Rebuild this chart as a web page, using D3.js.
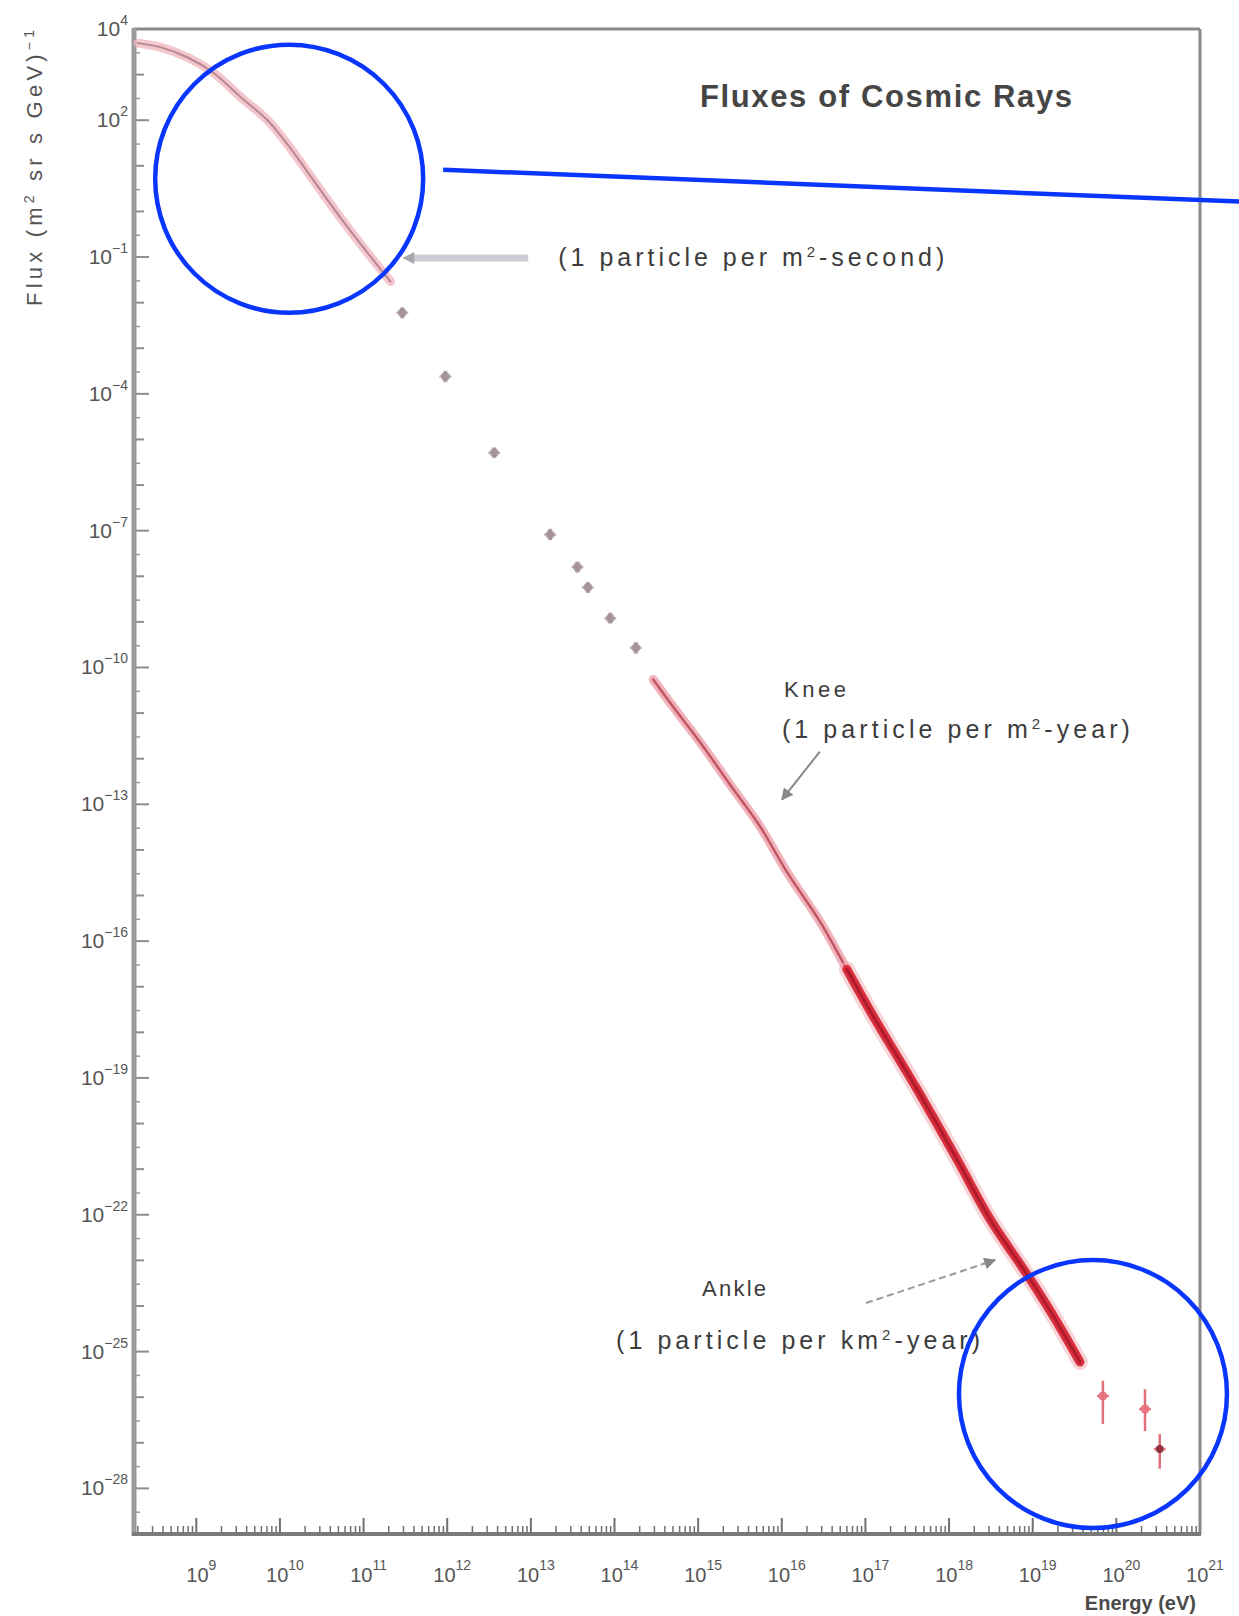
<!DOCTYPE html>
<html>
<head>
<meta charset="utf-8">
<title>Fluxes of Cosmic Rays</title>
<script src="https://cdn.jsdelivr.net/npm/d3@7"></script>
<style>
  html, body { margin: 0; padding: 0; background: #ffffff; }
  svg { display: block; }
</style>
</head>
<body>
<script>
// ---- Spectrum data: energy in eV, flux in (m^2 sr s GeV)^-1 ----

// low-energy spectrum (many overlapping direct measurements)
const lowEnergy = [2.0e8, 3.7e8, 7.8e8, 1.6e9, 3.4e9, 7.1e9, 1.3e10, 2.5e10, 4.8e10, 8.4e10, 1.3e11, 2.1e11];
const lowFlux   = [4.9e3, 4.0e3, 2.4e3, 1.1e3, 3.2e2, 1.0e2, 26, 4.9, 0.93, 0.24, 0.087, 0.029];

// balloon / satellite points with error bars
const directEnergy = [2.9e11, 9.5e11, 3.65e12, 1.7e13, 3.6e13, 4.8e13, 8.9e13, 1.8e14];
const directFlux   = [6.0e-3, 2.4e-4, 5.1e-6, 8.2e-8, 1.6e-8, 5.7e-9, 1.2e-9, 2.7e-10];
const directLow    = [4.5e-3, 1.8e-4, 3.9e-6, 6.2e-8, 1.2e-8, 4.3e-9, 9.2e-10, 2.0e-10];
const directHigh   = [7.9e-3, 3.2e-4, 6.7e-6, 1.1e-7, 2.1e-8, 7.5e-9, 1.6e-9, 3.6e-10];

// air-shower measurements across the knee
const kneeEnergy = [2.9e14, 4.6e14, 1.06e15, 2.4e15, 5.5e15, 1.16e16, 2.9e16, 6.0e16, 1.24e17];
const kneeFlux   = [5.45e-11, 1.71e-11, 2.27e-12, 2.73e-13, 3.27e-14, 3.21e-15, 2.58e-16, 2.41e-17, 2.25e-18];

// air-shower measurements up to the ankle and beyond
const ankleEnergy = [6.0e16, 1.24e17, 4.14e17, 1.24e18, 3.09e18, 9.3e18, 1.85e19, 3.67e19];
const ankleFlux   = [2.41e-17, 2.25e-18, 5.66e-20, 1.66e-21, 8.0e-23, 3.9e-24, 5.2e-25, 5.9e-26];

// highest-energy events
const uheEnergy = [6.9e19, 2.2e20, 3.3e20];
const uheFlux   = [1.06e-26, 5.5e-27, 7.3e-28];
const uheLow    = [2.6e-27, 1.8e-27, 2.7e-28];
const uheHigh   = [2.3e-26, 1.5e-26, 1.55e-27];

// axis tick exponents
const xTickExps = [9, 10, 11, 12, 13, 14, 15, 16, 17, 18, 19, 20, 21];
const yTickExps = [4, 2, -1, -4, -7, -10, -13, -16, -19, -22, -25, -28];

// text annotations, anchored on the spectrum
const notes = [
  { tipE: 2.9e11, tipF: 0.095, lines: [["(1 particle per m", "2", "-second)"]] },
  { tipE: 9.5e15, tipF: 1.15e-13, lines: [["Knee"], ["(1 particle per m", "2", "-year)"]] },
  { tipE: 3.85e18, tipF: 1.07e-23, lines: [["Ankle"], ["(1 particle per km", "2", "-year)"]] }
];

// highlighted regions
const highlights = [
  { e: 1.29e10, f: 5.2 },
  { e: 5.25e19, f: 1.17e-26 }
];

// ---- Layout ----
const W = 1239, H = 1616;
const plot = { left: 134, right: 1200, top: 29, bottom: 1534 };
const font = "'Liberation Sans', Arial, 'DejaVu Sans', sans-serif";

const x = d3.scaleLog().domain([1.8e8, 1e21]).range([plot.left, plot.right]);
const y = d3.scaleLog().domain([1e-29, 1e4]).range([plot.bottom, plot.top]);

const svg = d3.select("body").append("svg")
  .attr("width", W).attr("height", H)
  .style("font-family", font);

svg.append("rect").attr("width", W).attr("height", H).attr("fill", "#fff");

const defs = svg.append("defs");
defs.append("marker").attr("id", "arrowHead")
  .attr("viewBox", "0 0 10 10").attr("refX", 9).attr("refY", 5)
  .attr("markerWidth", 6).attr("markerHeight", 6).attr("orient", "auto")
  .append("path").attr("d", "M0,0 L10,5 L0,10 Z").attr("fill", "#888");

// ---- Axes ----
const axisG = svg.append("g");

// y ticks: every decade, labelled every third, plus a tick at 3x each decade
for (let p = -29; p <= 4; p++) {
  const labelled = yTickExps.includes(p);
  axisG.append("line")
    .attr("x1", plot.left).attr("x2", plot.left + (labelled ? 15 : 10))
    .attr("y1", y(Math.pow(10, p))).attr("y2", y(Math.pow(10, p)))
    .attr("stroke", "#8c8c8c").attr("stroke-width", 2);
  if (p < 4) {
    const v = 3 * Math.pow(10, p);
    axisG.append("line")
      .attr("x1", plot.left).attr("x2", plot.left + 6)
      .attr("y1", y(v)).attr("y2", y(v))
      .attr("stroke", "#9a9a9a").attr("stroke-width", 1.5);
  }
}

// x ticks: decades and 2..9 minors
const [xMin, xMax] = x.domain();
for (let p = 8; p <= 21; p++) {
  for (let m = 1; m <= 9; m++) {
    const v = m * Math.pow(10, p);
    if (v < xMin || v > xMax * 1.0001) continue;
    const major = m === 1;
    axisG.append("line")
      .attr("x1", x(v)).attr("x2", x(v))
      .attr("y1", plot.bottom).attr("y2", plot.bottom - (major ? 16 : 8))
      .attr("stroke", "#707070").attr("stroke-width", major ? 2 : 1.5);
  }
}

// frame
axisG.append("line").attr("x1", plot.left).attr("x2", plot.right)
  .attr("y1", plot.top).attr("y2", plot.top)
  .attr("stroke", "#8a8a8a").attr("stroke-width", 3);
axisG.append("line").attr("x1", plot.right).attr("x2", plot.right)
  .attr("y1", plot.top).attr("y2", plot.bottom)
  .attr("stroke", "#8a8a8a").attr("stroke-width", 3);
axisG.append("line").attr("x1", plot.left).attr("x2", plot.left)
  .attr("y1", plot.top - 1).attr("y2", plot.bottom + 2)
  .attr("stroke", "#9a9a9a").attr("stroke-width", 5);
axisG.append("line").attr("x1", plot.left - 2).attr("x2", plot.right + 1)
  .attr("y1", plot.bottom).attr("y2", plot.bottom)
  .attr("stroke", "#7a7a7a").attr("stroke-width", 4);

// y tick labels
yTickExps.forEach(p => {
  const t = axisG.append("text")
    .attr("x", 128).attr("y", y(Math.pow(10, p)) + 7)
    .attr("text-anchor", "end").attr("fill", "#555")
    .attr("font-size", 21);
  t.append("tspan").text("10");
  t.append("tspan").attr("dy", -11).attr("font-size", 14)
    .text(p < 0 ? "\u2212" + Math.abs(p) : String(p));
});

// x tick labels
xTickExps.forEach(p => {
  const t = axisG.append("text")
    .attr("x", x(Math.pow(10, p)) + 5).attr("y", 1582)
    .attr("text-anchor", "middle").attr("fill", "#555")
    .attr("font-size", 20);
  t.append("tspan").text("10");
  t.append("tspan").attr("dy", -12).attr("font-size", 14).text(String(p));
});

// axis titles
axisG.append("text")
  .attr("x", 1196).attr("y", 1610).attr("text-anchor", "end")
  .attr("font-size", 20).attr("font-weight", "bold").attr("fill", "#4a4a4a")
  .text("Energy (eV)");

const yt = axisG.append("text")
  .attr("transform", "translate(42,168) rotate(-90)")
  .attr("text-anchor", "middle").attr("font-size", 22)
  .attr("fill", "#555").attr("textLength", 276).attr("lengthAdjust", "spacing");
yt.append("tspan").text("Flux (m");
yt.append("tspan").attr("dy", -8).attr("font-size", 14).text("2");
yt.append("tspan").attr("dy", 8).text(" sr s GeV)");
yt.append("tspan").attr("dy", -8).attr("font-size", 14).text("\u22121");

// title
svg.append("text")
  .attr("x", 700).attr("y", 107)
  .attr("font-size", 31).attr("font-weight", "bold").attr("fill", "#454545")
  .attr("textLength", 372).attr("lengthAdjust", "spacing")
  .text("Fluxes of Cosmic Rays");

// ---- Spectrum ----
const line = d3.line()
  .x(d => x(d[0])).y(d => y(d[1]))
  .curve(d3.curveCatmullRom.alpha(0.5));

const zip = (a, b) => a.map((v, i) => [v, b[i]]);
const dataG = svg.append("g");

// low-energy band
dataG.append("path").datum(zip(lowEnergy, lowFlux)).attr("d", line)
  .attr("fill", "none").attr("stroke", "#efb4bc").attr("stroke-width", 9)
  .attr("stroke-linecap", "round").attr("opacity", 0.75);
dataG.append("path").datum(zip(lowEnergy, lowFlux)).attr("d", line)
  .attr("fill", "none").attr("stroke", "#b88890").attr("stroke-width", 2)
  .attr("stroke-linecap", "round");

// direct-measurement points
directEnergy.forEach((e, i) => {
  const cx = x(e);
  dataG.append("line")
    .attr("x1", cx).attr("x2", cx)
    .attr("y1", y(directLow[i])).attr("y2", y(directHigh[i]))
    .attr("stroke", "#b8a4a8").attr("stroke-width", 4);
  dataG.append("line")
    .attr("x1", cx - 6).attr("x2", cx + 6)
    .attr("y1", y(directFlux[i])).attr("y2", y(directFlux[i]))
    .attr("stroke", "#c8b4b8").attr("stroke-width", 2.5);
  dataG.append("circle").attr("cx", cx).attr("cy", y(directFlux[i]))
    .attr("r", 4.5).attr("fill", "#9c8c90").attr("opacity", 0.8);
});

// knee region
dataG.append("path").datum(zip(kneeEnergy, kneeFlux)).attr("d", line)
  .attr("fill", "none").attr("stroke", "#eda0aa").attr("stroke-width", 9)
  .attr("stroke-linecap", "round").attr("opacity", 0.8);
dataG.append("path").datum(zip(kneeEnergy, kneeFlux)).attr("d", line)
  .attr("fill", "none").attr("stroke", "#c25664").attr("stroke-width", 2.5)
  .attr("stroke-linecap", "round");

// ankle region
dataG.append("path").datum(zip(ankleEnergy, ankleFlux)).attr("d", line)
  .attr("fill", "none").attr("stroke", "#f3a9b0").attr("stroke-width", 16)
  .attr("stroke-linecap", "round").attr("opacity", 0.5);
dataG.append("path").datum(zip(ankleEnergy, ankleFlux)).attr("d", line)
  .attr("fill", "none").attr("stroke", "#d8303f").attr("stroke-width", 9)
  .attr("stroke-linecap", "round");
dataG.append("path").datum(zip(ankleEnergy, ankleFlux)).attr("d", line)
  .attr("fill", "none").attr("stroke", "#b01a2a").attr("stroke-width", 3)
  .attr("stroke-linecap", "round");

// highest-energy events
uheEnergy.forEach((e, i) => {
  const cx = x(e);
  dataG.append("line")
    .attr("x1", cx).attr("x2", cx)
    .attr("y1", y(uheLow[i])).attr("y2", y(uheHigh[i]))
    .attr("stroke", "#e0707c").attr("stroke-width", 2.5);
  dataG.append("line")
    .attr("x1", cx - 6).attr("x2", cx + 6)
    .attr("y1", y(uheFlux[i])).attr("y2", y(uheFlux[i]))
    .attr("stroke", "#e8808c").attr("stroke-width", 2.5);
  dataG.append("circle").attr("cx", cx).attr("cy", y(uheFlux[i]))
    .attr("r", i === 2 ? 4 : 4.5)
    .attr("fill", i === 2 ? "#8a2a34" : "#e8707e").attr("opacity", 0.9);
});

// ---- Annotations ----
const noteG = svg.append("g").attr("fill", "#3c3c3c");

function writeLine(g, parts, px, py, size, len) {
  const t = g.append("text").attr("x", px).attr("y", py).attr("font-size", size);
  if (len) t.attr("textLength", len).attr("lengthAdjust", "spacing");
  t.append("tspan").text(parts[0]);
  if (parts.length > 1) {
    t.append("tspan").attr("dy", -9).attr("font-size", size * 0.6).text(parts[1]);
    t.append("tspan").attr("dy", 9).text(parts[2]);
  }
  return t;
}

// 1 particle per m^2-second: horizontal pointer
{
  const n = notes[0];
  const tx = x(n.tipE), ty = y(n.tipF);
  noteG.append("line")
    .attr("x1", tx + 10).attr("x2", tx + 126).attr("y1", ty).attr("y2", ty)
    .attr("stroke", "#cdcdd5").attr("stroke-width", 7);
  noteG.append("path")
    .attr("d", `M${tx},${ty} l12,-6 l0,12 Z`).attr("fill", "#a8a8b0");
  writeLine(noteG, n.lines[0], tx + 156, ty + 8, 25, 386);
}

// knee
{
  const n = notes[1];
  const tx = x(n.tipE), ty = y(n.tipF);
  noteG.append("line")
    .attr("x1", tx + 40).attr("y1", ty - 50).attr("x2", tx + 2).attr("y2", ty - 2)
    .attr("stroke", "#888").attr("stroke-width", 2)
    .attr("marker-end", "url(#arrowHead)");
  writeLine(noteG, n.lines[0], tx + 4, ty - 105, 22, 62);
  writeLine(noteG, n.lines[1], tx + 2, ty - 64, 25, 348);
}

// ankle
{
  const n = notes[2];
  const tx = x(n.tipE), ty = y(n.tipF);
  noteG.append("line")
    .attr("x1", tx - 132).attr("y1", ty + 44).attr("x2", tx - 3).attr("y2", ty + 1)
    .attr("stroke", "#999").attr("stroke-width", 2).attr("stroke-dasharray", "7,4")
    .attr("marker-end", "url(#arrowHead)");
  writeLine(noteG, n.lines[0], tx - 296, ty + 37, 22, 64);
  writeLine(noteG, n.lines[1], tx - 382, ty + 90, 25, 364);
}

// ---- Highlight circles and connector ----
const hlColor = "#0836ff";
const hlR = 134;
const hlG = svg.append("g").attr("fill", "none").attr("stroke", hlColor).attr("stroke-width", 4.5);
highlights.forEach(h => {
  hlG.append("circle").attr("cx", x(h.e)).attr("cy", y(h.f)).attr("r", hlR);
});
{
  const c = highlights[0];
  const sx = x(c.e) + hlR + 20, sy = y(c.f) - 9;
  hlG.append("line")
    .attr("x1", sx).attr("y1", sy)
    .attr("x2", W).attr("y2", sy + (W - sx) * 0.04);
}
</script>
</body>
</html>
